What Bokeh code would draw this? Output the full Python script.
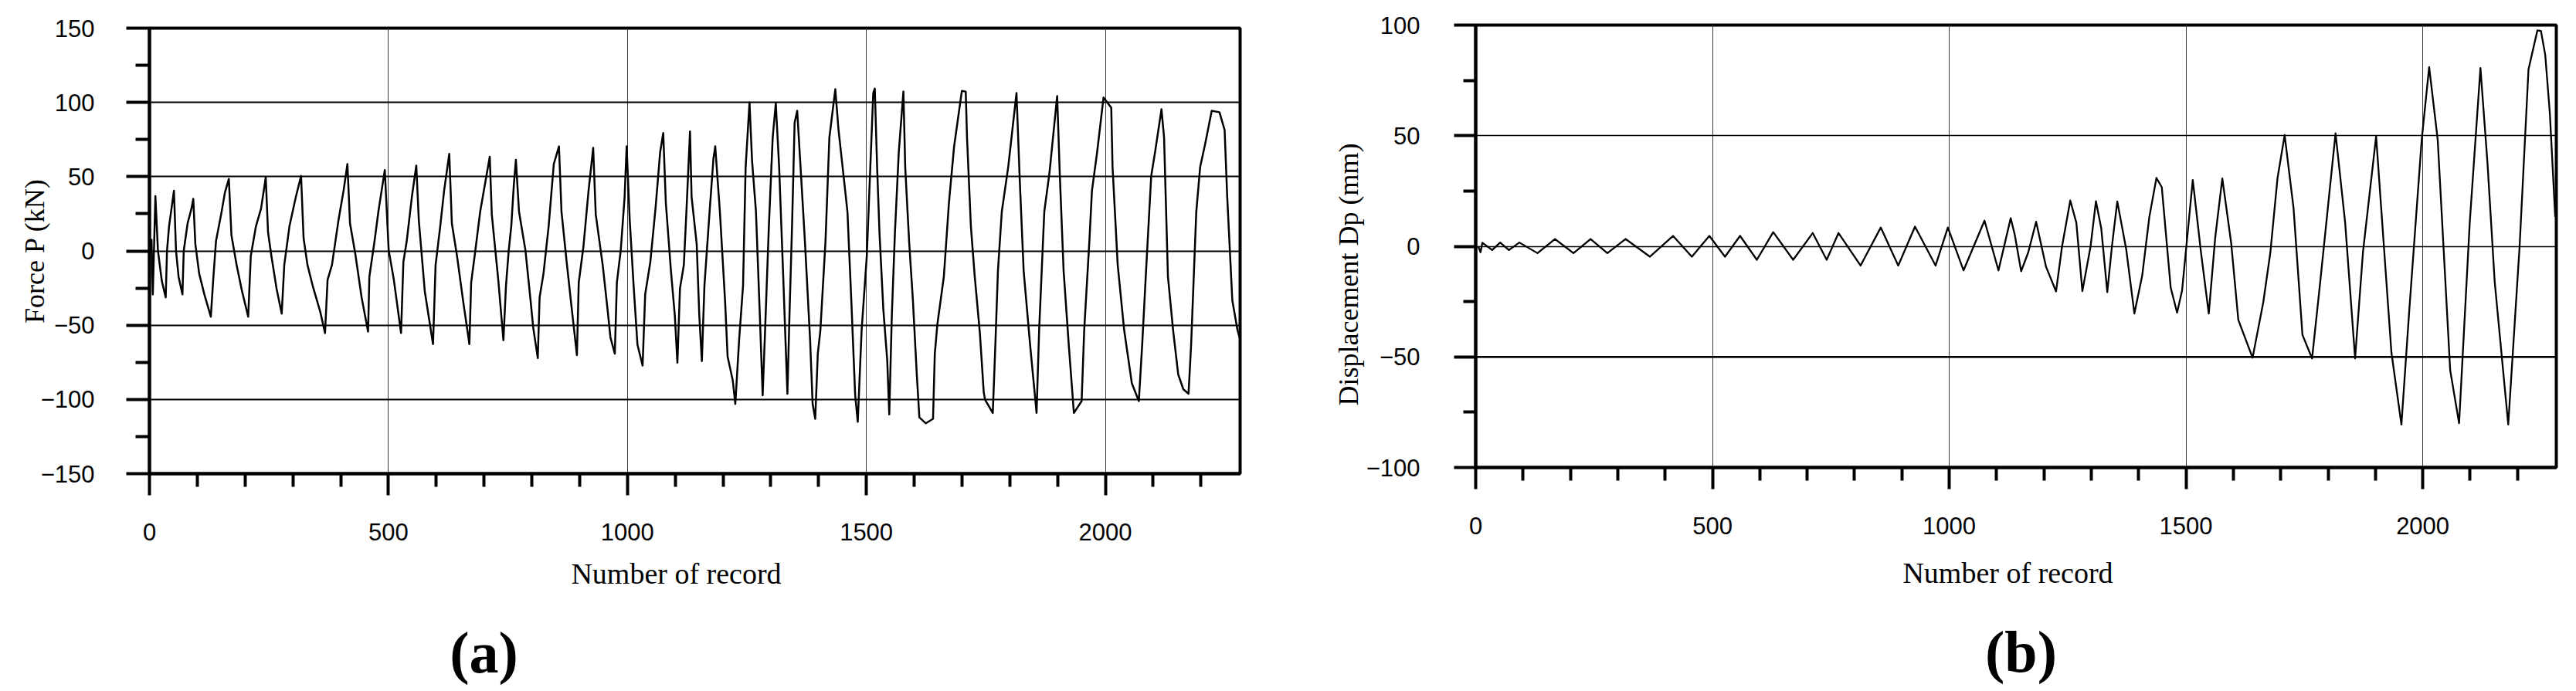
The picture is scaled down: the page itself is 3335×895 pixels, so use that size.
from bokeh.plotting import figure
from bokeh.models import Range1d, FixedTicker, Span, Title, Label
from bokeh.layouts import row, column
from bokeh.embed import file_html
from bokeh.resources import INLINE

# ---------------- data ----------------
force_record = [1.6, 4.3, 7.0, 12.4, 17.8, 25.9, 34.0, 36.7, 41.0, 51.2, 55.6, 60.9, 69.0, 71.7, 79.8, 87.9, 91.7,
                96.0, 104.1, 114.9, 128.4, 133.8, 139.2, 149.9, 158.0, 166.1, 171.5, 182.3, 193.1, 206.6, 212.0,
                222.8, 233.5, 243.3, 248.1, 255.1, 265.9, 276.7, 282.1, 292.9, 306.4, 317.2, 322.5, 330.6, 341.4,
                357.6, 367.3, 372.7, 381.9, 395.4, 406.1, 414.2, 419.6, 430.4, 443.9, 457.4, 460.1, 470.9, 479.0,
                492.4, 500.5, 511.3, 526.4, 531.3, 538.3, 549.1, 558.3, 563.6, 576.1, 593.3, 598.7, 608.4, 616.5,
                627.3, 632.7, 643.5, 657.0, 669.4, 673.1, 681.2, 692.0, 712.0, 716.3, 729.8, 740.6, 746.0,
                751.6, 757.0, 762.4, 766.7, 773.2, 786.6, 797.4, 802.8, 812.5, 816.3, 824.4, 835.2, 846.0, 856.8,
                862.1, 872.9, 883.7, 894.4, 898.2, 907.9, 918.7, 928.4, 933.8, 948.3, 959.1, 964.5, 973.7, 978.0,
                986.1, 994.2, 998.4, 1004.9, 1013.0, 1021.1, 1031.8, 1037.2, 1048.0, 1058.8, 1068.5, 1075.0,
                1080.4, 1091.1, 1099.2, 1104.6, 1110.0, 1118.1, 1123.5, 1131.0, 1134.3, 1145.0, 1150.4, 1155.8,
                1161.2, 1172.0, 1180.1, 1183.8, 1193.5, 1204.3, 1209.7, 1220.5, 1225.8, 1233.9, 1242.0, 1247.4,
                1255.5, 1260.9, 1269.0, 1277.1, 1283.0, 1287.9, 1296.0, 1304.0, 1310.5, 1317.5, 1325.6, 1334.8,
                1339.1, 1344.5, 1349.9, 1355.3, 1363.4, 1371.4, 1382.2, 1387.6, 1393.0, 1398.4, 1403.8, 1414.5,
                1422.6, 1435.0, 1441.5, 1452.3, 1460.4, 1468.5, 1476.6, 1482.0, 1490.1, 1500.9, 1514.4,
                1517.6, 1522.5, 1527.4, 1535.5, 1543.6, 1547.9, 1553.3, 1559.8, 1567.8, 1577.5, 1581.3, 1589.4,
                1597.4, 1605.5, 1610.9, 1624.4, 1639.5, 1643.2, 1648.6, 1662.1, 1672.8, 1683.6, 1699.8, 1707.9,
                1710.6, 1718.7, 1726.8, 1737.5, 1745.6, 1748.3, 1764.5, 1769.9, 1775.3, 1783.4, 1796.8, 1814.1,
                1821.1, 1829.1, 1842.6, 1856.1, 1861.5, 1872.3, 1883.1, 1899.2, 1904.6, 1912.7, 1923.5, 1934.2,
                1950.4, 1955.8, 1966.6, 1972.0, 1982.8, 1996.2, 2012.4, 2015.1, 2025.9, 2039.4, 2055.5, 2070.1,
                2077.1, 2085.2, 2096.0, 2104.0, 2117.5, 2122.9, 2131.0, 2141.8, 2152.5, 2163.3, 2174.1, 2179.5,
                2190.3, 2198.4, 2209.1, 2222.6, 2238.8, 2249.6, 2255.0, 2265.7, 2276.5, 2280.8]
force_kn = [0, 7.6, -29.3, 36.9, 0, -20.3, -31.3, 0, 16.6, 40.5, 0, -17.4, -29.3, 0, 18.6, 28.5, 35.1,
            4.6, -15.4, -29.3, -44.3, -17.4, 6.6, 24.5, 39.5, 48.5, 10.6, -9.4, -26.3, -44.3, -3.4,
            16.6, 28.5, 49.5, 12.6, -3.4, -25.3, -42.3, -9.4, 16.6, 36.5, 50.5, 8.6, -9.4, -23.3,
            -41.3, -55.3, -19.4, -9.4, 20.5, 40.5, 58.5, 18.6, -1.4, -31.3, -54.3, -17.4, 6.6, 26.5,
            54.5, 0.6, -19.4, -55.3, -7.4, 6.6, 36.5, 57.5, 20.5, -27.3, -62.8, -9.4, 16.6, 40.5,
            65.4, 18.6, -3.4, -35.3, -62.8, -21.3, -1.4, 26.5, 63.4, 24.5, -19.4, -60.2, -23.3,
            0, 16.6, 44.5, 61.4, 26.5, 0.6, -33.3, -51.3, -72.2, -31.3, -15.4, 16.6, 58.5, 70.4,
            26.5, -7.4, -39.3, -70.2, -21.3, 2.6, 40.5, 69.4, 24.5, -9.4, -41.3, -58.3, -69.2, -21.3,
            0.6, 36.5, 70.4, 20.5, -23.3, -63.2, -77.2, -29.3, -7.4, 28.5, 66.4, 79.4,
            32.5, -13.4, -43.3, -75.2, -25.3, -9.4, 26.5, 80.4, 36.5, 4.6, -43.3, -74.2,
            -23.3, 26.5, 62.4, 70.4, 26.5, -33.3, -71.2, -87.2, -103.1, -59.3, -23.3, 56.5,
            99.9, 60.4, 26.5, -43.3, -97.2, -55.3, 16.6, 76.4, 99.4, 56.5, -13.4, -96.2,
            -43.3, 16.6, 86.4, 94.4, 50.5, 6.6, -59.3, -103.1, -113.1, -69.2, -53.3, 6.6,
            76.4, 108.9, 82.4, 50.5, 26.5, -33.3, -97.2, -115.1, -53.3, -3.4, 106.3,
            109.3, 56.5, 12.6, -39.3, -73.2, -110.1, -43.3, 12.6, 66.4, 107.3, 56.5, 6.6,
            -33.3, -83.2, -112.1, -116.1, -113.1, -69.2, -49.3, -17.4, 32.5, 70.4, 107.7, 107.3,
            76.4, 16.6, -17.4, -55.3, -95.2, -100.1, -109.1, -63.2, -13.4, 26.5, 56.5, 106.3,
            46.5, -13.4, -63.2, -109.1, -53.3, 26.5, 52.5, 104.3, 52.5, -13.4, -63.2, -109.1,
            -101.1, -53.3, 6.6, 40.5, 66.4, 103.3, 96.4, 56.5, -9.4, -53.3, -89.2, -101.1,
            -63.2, -13.4, 50.5, 66.4, 95.4, 76.4, -17.4, -53.3, -83.2, -93.2, -96.2, -63.2,
            26.5, 56.5, 72.4, 94.4, 93.4, 81.4, 36.5, -33.3, -53.3, -58.3]

disp_record = [5.2, 10.3, 14.0, 34.7, 51.6, 70.1, 92.2, 130.5, 167.4, 206.5, 242.6, 278.0, 316.4, 368.0,
               416.7, 456.5, 493.4, 526.5, 558.3, 593.7, 628.3, 670.4, 711.7, 741.2, 766.2, 812.7, 855.5,
               892.3, 927.7, 971.2, 997.1, 1030.2, 1074.5, 1104.0, 1129.8, 1138.3, 1151.9, 1166.9, 1183.5,
               1204.5, 1225.6, 1238.3, 1255.6, 1268.4, 1281.2, 1298.5, 1309.8, 1321.1, 1333.8, 1343.6,
               1354.9, 1373.7, 1391.0, 1407.5, 1422.6, 1437.6, 1448.9, 1467.7, 1481.2, 1491.7, 1514.3,
               1531.6, 1548.1, 1561.7, 1576.7, 1595.5, 1610.5, 1640.6, 1663.2, 1678.2, 1693.2, 1708.3,
               1727.1, 1745.9, 1766.2, 1783.5, 1815.8, 1836.1, 1857.1, 1873.7, 1901.5, 1918.8, 1933.8,
               1954.9, 1971.4, 1997.7, 2013.5, 2031.6, 2057.9, 2076.7, 2099.2, 2121.8, 2136.8, 2151.9,
               2180.5, 2204.5, 2223.3, 2242.1, 2249.6, 2258.6, 2268.4, 2279.7]
disp_mm = [0, -2.7, 1.6, -1.7, 1.7, -1.7, 1.7, -3.1, 3.3, -3.1, 3.3, -3.1, 3.3, -4.7,
           4.7, -4.7, 4.7, -4.7, 4.7, -6.1, 6.4, -6.1, 6.0, -6.1, 6.0, -8.7, 8.5,
           -8.7, 8.9, -8.7, 8.5, -10.9, 11.6, -10.9, 12.7, 5.3, -11.3, -2.7, 11.1,
           -9.3, -20.4, 0, 20.7, 10.7, -20.3, 0, 20.4, 8.0, -20.7, 0,
           20.3, -1.3, -30.4, -13.3, 13.3, 30.9, 26.7, -18.7, -30.0, -20.0, 30.0,
           -2.7, -30.4, 4.0, 30.7, 1.3, -33.3, -50.4, -25.3, -2.7, 30.7, 50.3,
           17.3, -40.0, -50.7, -16.0, 51.1, 10.7, -50.7, -2.7, 49.7, -2.7, -48.0,
           -80.6, -29.3, 48.0, 81.0, 48.0, -56.0, -80.0, 10.7, 80.6, 37.3, -16.0,
           -80.6, 0, 80.0, 97.6, 97.3, 86.6, 60.0, 13.3]

x_major = [0, 500, 1000, 1500, 2000]
x_minor = [100, 200, 300, 400, 600, 700, 800, 900, 1100, 1200, 1300, 1400,
           1600, 1700, 1800, 1900, 2100, 2200]
force_major = [-150, -100, -50, 0, 50, 100, 150]
force_minor = [-125, -75, -25, 25, 75, 125]
force_tick_labels = {-150: "\u2212150", -100: "\u2212100", -50: "\u221250"}
disp_major = [-100, -50, 0, 50, 100]
disp_minor = [-75, -25, 25, 75]

x_title = "Number of record"
force_title = "Force P (kN)"
disp_title = "Displacement Dp (mm)"

SANS = "Liberation Sans"
SERIF = "Liberation Serif"

TOP_H = 716          # height of the chart figures
CAP_H = 895 - TOP_H  # height of the caption figures
WA, WB = 1700, 1630
A_LEFT, A_RIGHT = 193, WA - 1605
B_LEFT, B_RIGHT = 1910 - WA, WA + WB - 3309


def hide_title(p):
    p.title.text_font_size = "1px"
    p.title.standoff = 0


def style(p, yt_major, yt_minor, ytick_out, ytick_minor_out, ystand, xstand):
    hide_title(p)
    p.background_fill_color = "white"
    p.border_fill_color = "white"
    p.outline_line_color = "black"
    p.outline_line_width = 4
    xt = FixedTicker(ticks=x_major, minor_ticks=x_minor)
    yt = FixedTicker(ticks=yt_major, minor_ticks=yt_minor)
    p.xaxis.ticker = xt
    p.xgrid.ticker = xt
    p.yaxis.ticker = yt
    p.ygrid.ticker = yt
    for ax in (p.xaxis, p.yaxis):
        ax.axis_line_width = 4
        ax.axis_line_color = "black"
        ax.major_tick_line_width = 4
        ax.minor_tick_line_width = 4
        ax.major_tick_line_color = "black"
        ax.minor_tick_line_color = "black"
        ax.major_tick_in = 0
        ax.minor_tick_in = 0
        ax.major_label_text_font = SANS
        ax.major_label_text_font_size = "31px"
        ax.major_label_text_color = "black"
    p.xaxis.major_tick_out = 28
    p.xaxis.minor_tick_out = 17
    p.xaxis.major_label_standoff = xstand
    p.yaxis.major_tick_out = ytick_out
    p.yaxis.minor_tick_out = ytick_minor_out
    p.yaxis.major_label_standoff = ystand
    p.xgrid.grid_line_color = "#3a3a3a"
    p.xgrid.grid_line_width = 1


def caption(width, left, right, title_x, title_y, tag, tag_x, tag_y):
    # title_x / tag_x are measured from this figure's own left edge;
    # screen x of a Label is measured from the frame's left edge
    c = figure(width=width, height=CAP_H, x_range=Range1d(0, 1), y_range=Range1d(0, 1),
               x_axis_type=None, y_axis_type=None, output_backend="svg", toolbar_location=None,
               min_border_left=left, min_border_right=right, min_border_top=0, min_border_bottom=0)
    hide_title(c)
    c.outline_line_color = None
    c.background_fill_color = "white"
    c.border_fill_color = "white"
    c.add_layout(Label(x=title_x - left, y=title_y, x_units="screen", y_units="screen", text=x_title,
                       text_align="center", text_baseline="alphabetic", text_font=SERIF,
                       text_font_size="38px", text_color="black"))
    c.add_layout(Label(x=tag_x - left, y=tag_y, x_units="screen", y_units="screen", text=tag,
                       text_align="center", text_baseline="alphabetic", text_font=SERIF,
                       text_font_size="76px", text_font_style="bold", text_color="black"))
    return c


# ---------------- panel (a) ----------------
pa = figure(width=WA, height=TOP_H, x_range=Range1d(0, 2282), y_range=Range1d(-150, 150),
            output_backend="svg", toolbar_location=None,
            min_border_left=A_LEFT, min_border_right=A_RIGHT, min_border_top=36,
            min_border_bottom=TOP_H - 613)
style(pa, force_major, force_minor, 30, 18, 41, 36)
pa.yaxis.major_label_overrides = force_tick_labels
pa.yaxis.axis_label = force_title
pa.yaxis.axis_label_text_font = SERIF
pa.yaxis.axis_label_text_font_size = "36px"
pa.yaxis.axis_label_text_font_style = "normal"
pa.yaxis.axis_label_text_color = "black"
pa.yaxis.axis_label_standoff = -15
pa.ygrid.grid_line_color = "black"
pa.ygrid.grid_line_width = 2
pa.line(force_record, force_kn, line_color="black", line_width=2.5, line_join="round")

# ---------------- panel (b) ----------------
pb = figure(width=WB, height=TOP_H, x_range=Range1d(0, 2282), y_range=Range1d(-100, 100),
            output_backend="svg", toolbar_location=None,
            min_border_left=B_LEFT, min_border_right=B_RIGHT, min_border_top=32,
            min_border_bottom=TOP_H - 605)
style(pb, disp_major, disp_minor, 28, 16, 44, 36)
pb.ygrid.grid_line_color = "black"
pb.ygrid.grid_line_width = 1.3
pb.add_layout(Span(location=-50, dimension="width", line_color="black", line_width=2.5))
pb.line(disp_record, disp_mm, line_color="black", line_width=2.3, line_join="round")
pb.add_layout(Title(text=disp_title, align="left", offset=80, standoff=0, text_font=SERIF,
                    text_font_size="36px", text_font_style="normal", text_color="black"), "left")

# ---------------- captions under the panels ----------------
ca = caption(WA, A_LEFT, A_RIGHT, 875, 153, "(a)", 626, 51)
cb = caption(WB, B_LEFT, B_RIGHT, 2599 - WA, 154, "(b)", 2616 - WA, 52)

layout = row(column(pa, ca), column(pb, cb))
open("out.html", "w").write(file_html(layout, INLINE))
